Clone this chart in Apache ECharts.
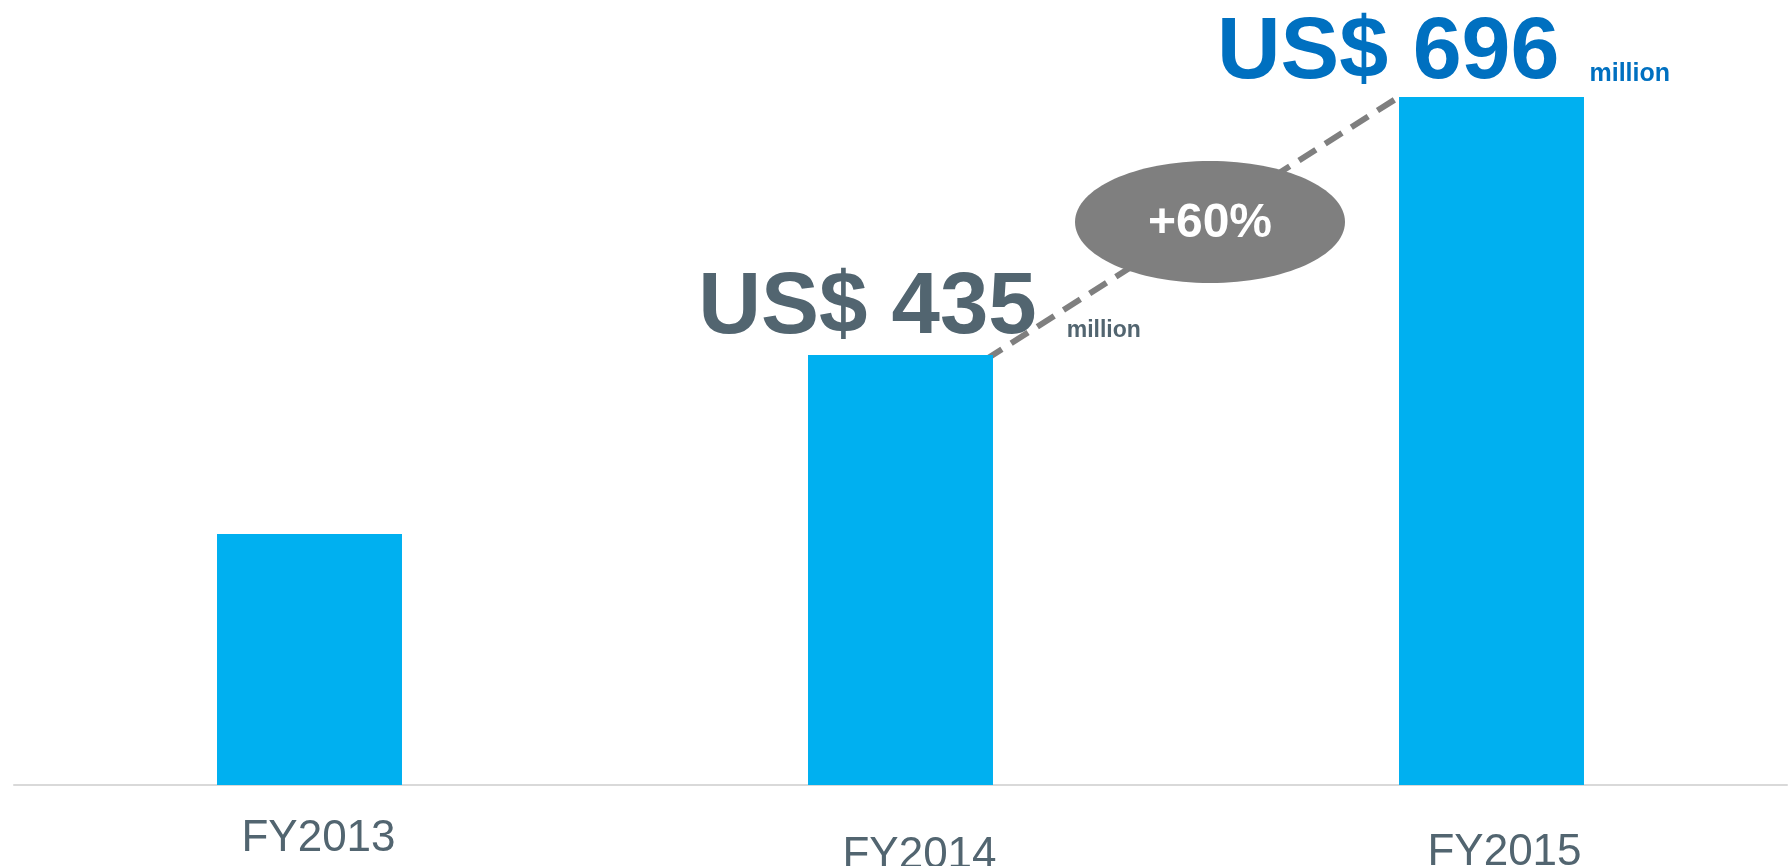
<!DOCTYPE html>
<html>
<head>
<meta charset="utf-8">
<script src="https://cdn.jsdelivr.net/npm/echarts@6/dist/echarts.min.js"></script>
<style>
  html, body { margin: 0; padding: 0; background: #fff; }
  #chart { width: 1790px; height: 866px; }
</style>
</head>
<body>
<div id="chart"></div>
<script>
// 财年
const years = ['FY2013', 'FY2014', 'FY2015']
// 收入（百万美元）
const revenue = [254, 435, 696]
const unitText = 'million'

const FONT = '"Liberation Sans", Arial, sans-serif'
const grey = '#526570'
const blue = '#0070C0'
const BAR_RATIO = 0.313

// 增长率
const growth = '+' + Math.round((revenue[2] / revenue[1] - 1) * 100) + '%'

// 数值标签（只有后两年显示）
const labelCfg = [
  null,
  { color: grey, offset: [19, 7], big: 87, small: 23 },
  { color: blue, offset: [-48, 10], big: 88, small: 25 }
]

const chart = echarts.init(document.getElementById('chart'))

const barData = revenue.map((v, i) => {
  const cfg = labelCfg[i]
  if (!cfg) return v
  return {
    value: v,
    label: {
      show: true,
      position: 'top',
      distance: 9,
      offset: cfg.offset,
      formatter: p => '{big|US$ ' + p.value + '}{small|' + unitText + '}',
      rich: {
        big: { fontSize: cfg.big, fontWeight: 'bold', color: cfg.color, fontFamily: FONT, lineHeight: cfg.big },
        small: {
          fontSize: cfg.small, fontWeight: 'bold', color: cfg.color, fontFamily: FONT,
          verticalAlign: 'bottom', padding: [0, 0, 11, 30]
        }
      }
    }
  }
})

// x轴标签的上下错位
const tickStyle = (top, left) => ({
  fontSize: 44, color: grey, fontFamily: FONT, padding: [top, 0, 0, left]
})

const option = {
  animation: false,
  backgroundColor: '#fff',
  grid: { left: 14, right: 3, top: 0, bottom: 81, outerBoundsMode: 'none' },
  xAxis: {
    type: 'category',
    data: years,
    axisLine: { lineStyle: { color: '#D9D9D9', width: 2 } },
    axisTick: { show: false },
    axisLabel: {
      margin: 32,
      formatter: (val, idx) => '{y' + idx + '|' + val + '}',
      rich: {
        y0: tickStyle(0, 18),
        y1: tickStyle(17, 38),
        y2: tickStyle(14, 26)
      }
    }
  },
  yAxis: {
    type: 'value',
    min: 0,
    max: 794,
    show: false,
    splitLine: { show: false }
  },
  series: [
    {
      // 增长虚线 + 椭圆标注
      type: 'custom',
      data: [[1, revenue[1], 2, revenue[2]]],
      silent: true,
      renderItem: (params, api) => {
        const half = api.size([1, 0])[0] * BAR_RATIO / 2
        const p1 = api.coord([api.value(0), api.value(1)])
        const p2 = api.coord([api.value(2), api.value(3)])
        const a = [p1[0] + half, p1[1]]
        const b = [p2[0] - half, p2[1]]
        const mx = (a[0] + b[0]) / 2 + 14
        const my = (a[1] + b[1]) / 2 - 4
        return {
          type: 'group',
          children: [
            {
              type: 'line',
              shape: { x1: a[0] - 8, y1: a[1] + 5, x2: b[0], y2: b[1] },
              style: { stroke: '#7F7F7F', lineWidth: 6, lineDash: [20, 11] }
            },
            {
              type: 'ellipse',
              shape: { cx: mx, cy: my, rx: 135, ry: 61 },
              style: { fill: '#7F7F7F' }
            },
            {
              type: 'text',
              style: {
                text: growth, x: mx, y: my + 2, fill: '#fff',
                font: 'bold 48px ' + FONT, align: 'center', verticalAlign: 'middle'
              }
            }
          ]
        }
      }
    },
    {
      type: 'bar',
      data: barData,
      barWidth: (BAR_RATIO * 100) + '%',
      itemStyle: { color: '#00B0F0' }
    }
  ]
}

chart.setOption(option)
</script>
</body>
</html>
